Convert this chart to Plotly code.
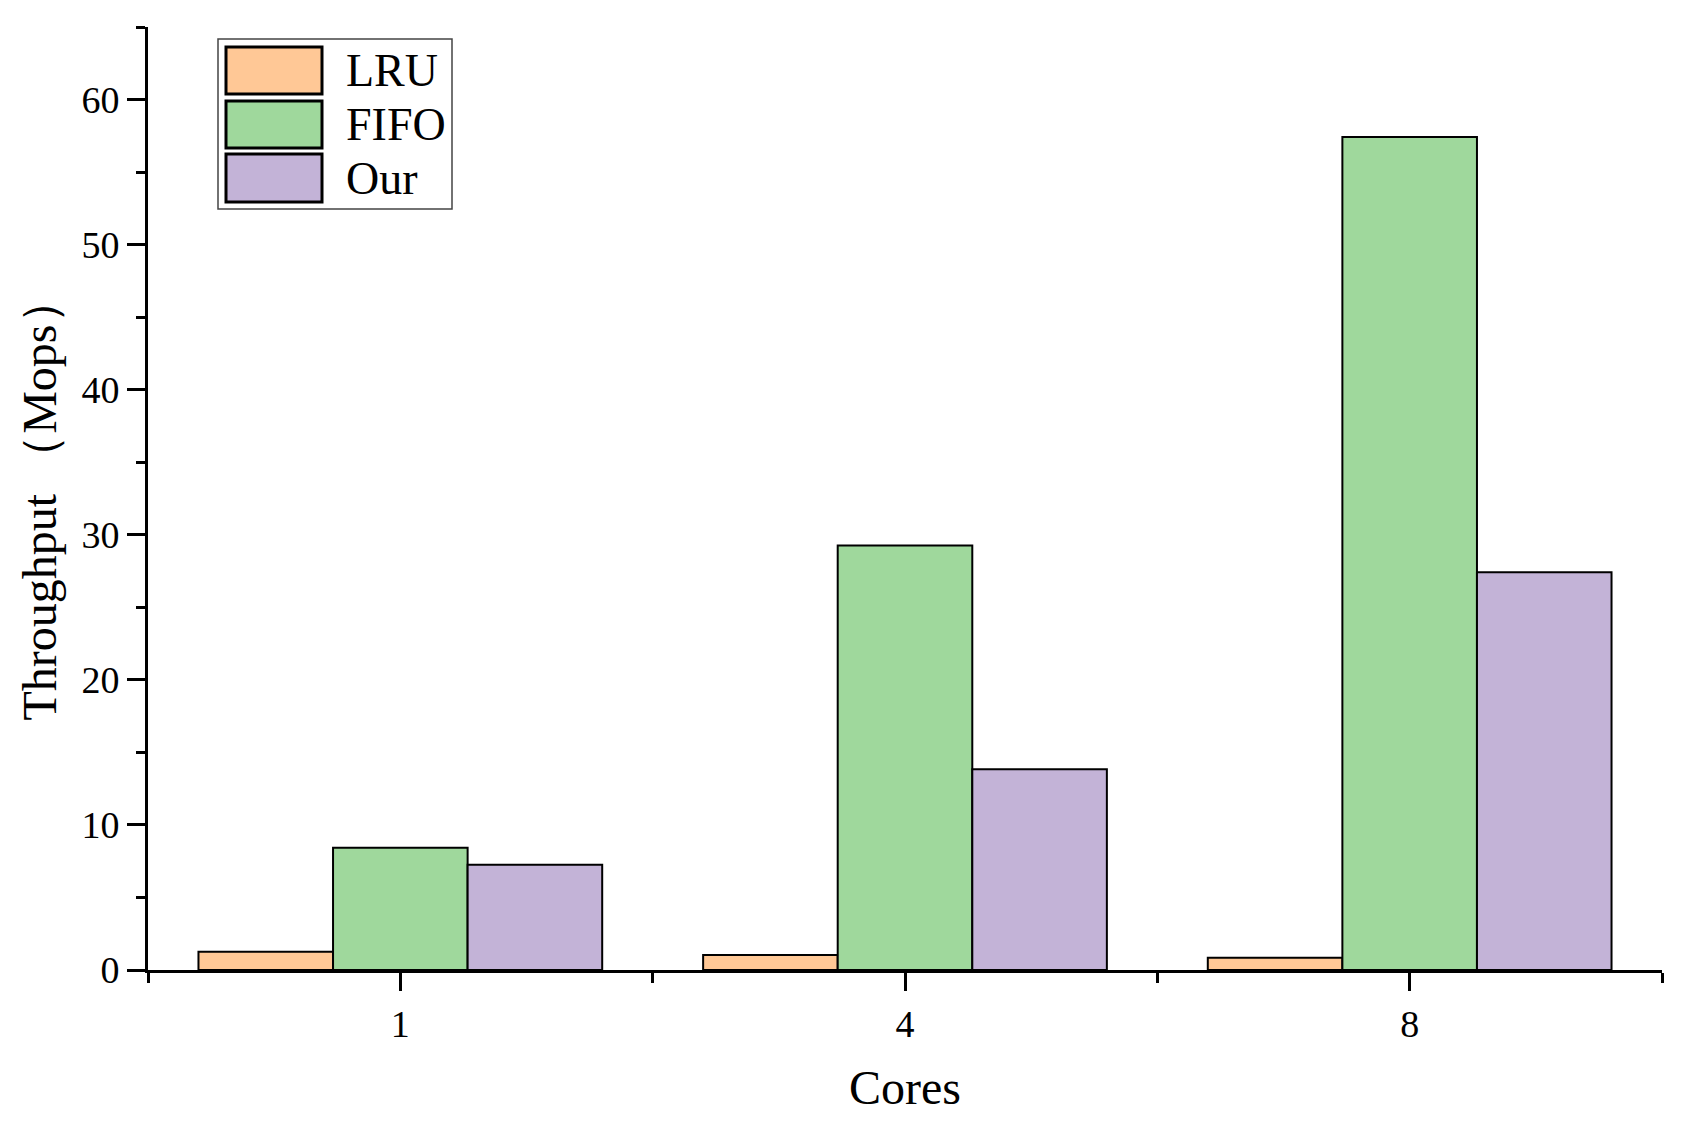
import plotly.graph_objects as go

# data
cores = ["1", "4", "8"]
series_names = ["LRU", "FIFO", "Our"]
lru = [1.26, 1.04, 0.85]
fifo = [8.42, 29.26, 57.42]
our = [7.25, 13.84, 27.42]
colors = ["#FFC896", "#9FD89C", "#C3B3D7"]

# page body has an 8px margin, so the figure is a bit smaller than the window
OFF = 8
W, H = 1689 - 2 * OFF, 1122 - 2 * OFF
L, R, T, B = 148 - OFF, 27 - OFF, 27 - OFF, 1122 - 970 - OFF
FONT = "Liberation Serif"


def px_x(x):
    # reference pixel -> paper coords
    return (x - OFF - L) / (W - L - R)


def px_y(y):
    return (H - B - (y - OFF)) / (H - T - B)


xs = list(range(len(cores)))
fig = go.Figure()
for name, vals, col in zip(series_names, [lru, fifo, our], colors):
    fig.add_trace(go.Bar(
        x=xs, y=vals, name=name,
        marker=dict(color=col, line=dict(color="black", width=2)),
        showlegend=False,
    ))

axis_common = dict(
    showline=True, linecolor="black", linewidth=3,
    ticks="outside", tickcolor="black", tickwidth=3, ticklen=18,
    showgrid=False, zeroline=False,
    tickfont=dict(family=FONT, size=38, color="black"),
)

fig.update_layout(
    width=W, height=H,
    paper_bgcolor="white", plot_bgcolor="white",
    margin=dict(l=L, r=R, t=T, b=B, autoexpand=False),
    barmode="group", bargap=0.2, bargroupgap=0,
    font=dict(family=FONT, color="black"),
    xaxis=dict(
        **axis_common,
        range=[-0.5, len(cores) - 0.5],
        tickmode="array", tickvals=xs, ticktext=cores,
        ticklabelstandoff=0,
        minor=dict(tickmode="linear", tick0=-0.5, dtick=1, ticks="outside",
                   ticklen=10, tickwidth=3, tickcolor="black"),
        title=dict(text="Cores", font=dict(family=FONT, size=48), standoff=27),
    ),
    yaxis=dict(
        **axis_common,
        range=[0, 65], dtick=10, tick0=0,
        ticklabelstandoff=0,
        minor=dict(dtick=5, ticks="outside", ticklen=9, tickwidth=3, tickcolor="black"),
        title=dict(text="Throughput （Mops）", font=dict(family=FONT, size=48), standoff=10),
    ),
)

# legend drawn by hand to get the wide swatches of the original
fig.add_shape(type="rect", xref="paper", yref="paper",
              x0=px_x(218), x1=px_x(452), y0=px_y(209), y1=px_y(39),
              line=dict(color="#444444", width=1.5), fillcolor="white", layer="above")
rows = [(47, 94), (101, 148), (154, 202)]
for (top, bot), name, col in zip(rows, series_names, colors):
    fig.add_shape(type="rect", xref="paper", yref="paper",
                  x0=px_x(226), x1=px_x(322), y0=px_y(bot), y1=px_y(top),
                  line=dict(color="black", width=3), fillcolor=col, layer="above")
    fig.add_annotation(xref="paper", yref="paper", x=px_x(344), y=px_y((top + bot) / 2),
                       text=name, showarrow=False, xanchor="left", yanchor="middle",
                       font=dict(family=FONT, size=46, color="black"))

fig.write_html("out.html")
